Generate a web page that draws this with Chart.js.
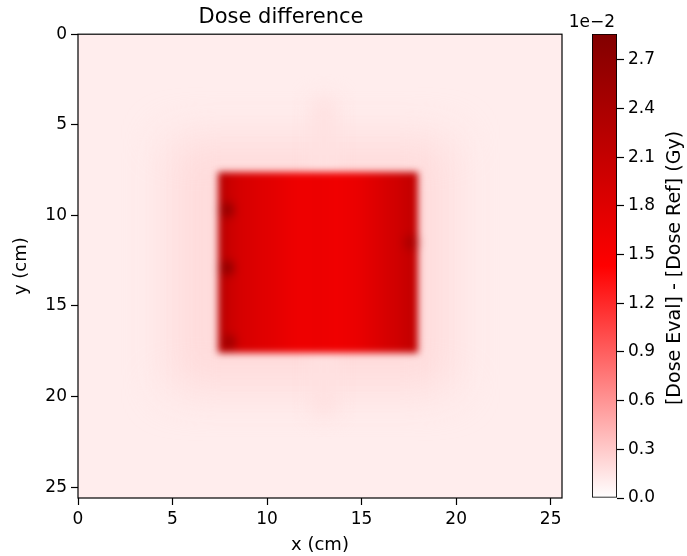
<!DOCTYPE html>
<html>
<head>
<meta charset="utf-8">
<title>Dose difference</title>
<script src="https://cdn.jsdelivr.net/npm/chart.js@4.4.0/dist/chart.umd.min.js"></script>
<style>
  html, body { margin: 0; padding: 0; background: #fff; }
  #wrap { position: relative; width: 687px; height: 556px; }
  #wrap canvas { position: absolute; left: 0; top: 0; }
</style>
</head>
<body>
<div id="wrap">
  <canvas id="dose_map" width="687" height="556"></canvas>
  <canvas id="dose_bar" width="687" height="556"></canvas>
</div>
<script>
// all doses in units of 1e-2 Gy (Eval - Ref)
const doseMax = 2.86;
const backgroundDose = 0.1;

// faint scatter halo around the field
const haloX = [4.8, 19.8];
const haloY = [5.8, 19.6];
const haloDose = 0.2;
const tailX = [12.3, 13.7];
const tailY = [3.5, 21.0];
const tailDose = 0.17;

// open field, split in vertical strips (left edges + last right edge)
const fieldY = [7.6, 17.6];
const stripX = [7.4, 7.9, 8.4, 8.9, 9.4, 9.9, 10.4, 10.9, 11.4, 11.9, 12.4,
                12.9, 13.4, 13.9, 14.4, 14.9, 15.4, 15.9, 16.4, 16.9, 17.4, 18.0];
const stripDose = [2.2, 2.0, 1.9, 1.85, 1.8, 1.76, 1.72, 1.66, 1.62, 1.62, 1.64,
                   1.62, 1.6, 1.62, 1.66, 1.72, 1.8, 1.88, 1.95, 2.02, 2.1];

// hot spots along the field edges
const hotX = [7.9, 7.9, 8.0, 17.6];
const hotY = [9.7, 12.9, 17.0, 11.5];
const hotDose = [2.75, 2.8, 2.6, 2.45];

const font = 'DejaVu Sans';
const tickFont = {family: font, size: 17};
const labelFont = {family: font, size: 18};

// white -> red -> dark red
const cmapStops = [[255, 255, 255], [255, 0, 0], [130, 0, 0]];
function doseColour(d) {
    let t = Math.max(0, Math.min(1, d / doseMax));
    let [a, b] = t < 0.5 ? [cmapStops[0], cmapStops[1]] : [cmapStops[1], cmapStops[2]];
    let f = t < 0.5 ? t / 0.5 : (t - 0.5) / 0.5;
    let c = a.map((v, i) => Math.round(v + (b[i] - v) * f));
    return `rgb(${c[0]}, ${c[1]}, ${c[2]})`;
}

/**
 * paints the dose cells under the axes
 */
const doseMap = {
    id: 'doseMap',
    beforeDatasetsDraw(chart) {
        const {ctx, chartArea: a, scales: {x, y}} = chart;
        const rect = (c, x0, x1, y0, y1, dose) => {
            let px0 = Math.round(x.getPixelForValue(x0)), px1 = Math.round(x.getPixelForValue(x1));
            let py0 = Math.round(y.getPixelForValue(y0)), py1 = Math.round(y.getPixelForValue(y1));
            c.fillStyle = doseColour(dose);
            c.fillRect(Math.min(px0, px1), Math.min(py0, py1), Math.abs(px1 - px0), Math.abs(py1 - py0));
        };
        ctx.save();
        ctx.beginPath();
        ctx.rect(a.left, a.top, a.width, a.height);
        ctx.clip();
        ctx.fillStyle = doseColour(backgroundDose);
        ctx.fillRect(a.left, a.top, a.width, a.height);

        ctx.filter = 'blur(22px)';
        rect(ctx, haloX[0], haloX[1], haloY[0], haloY[1], haloDose);
        ctx.filter = 'blur(10px)';
        rect(ctx, tailX[0], tailX[1], tailY[0], tailY[1], tailDose);

        // field drawn sharp off-screen, then softened as one piece
        const off = document.createElement('canvas');
        off.width = chart.width;
        off.height = chart.height;
        const oc = off.getContext('2d');
        for (let i = 0; i < stripDose.length; i++) {
            rect(oc, stripX[i], stripX[i + 1], fieldY[0], fieldY[1], stripDose[i]);
        }
        oc.filter = 'blur(3px)';
        hotX.forEach((hx, i) => {
            let cx = x.getPixelForValue(hx), cy = y.getPixelForValue(hotY[i]);
            let r = Math.abs(x.getPixelForValue(0.32) - x.getPixelForValue(0));
            oc.fillStyle = doseColour(hotDose[i]);
            oc.beginPath();
            oc.ellipse(cx, cy, r, r * 1.2, 0, 0, Math.PI * 2);
            oc.fill();
        });
        ctx.filter = 'blur(3.5px)';
        ctx.drawImage(off, 0, 0);
        ctx.restore();
    },
    afterDraw(chart) {
        const {ctx, chartArea: a} = chart;
        ctx.save();
        ctx.strokeStyle = '#000';
        ctx.lineWidth = 1.2;
        ctx.strokeRect(a.left, a.top, a.width, a.height);
        ctx.restore();
    }
};

const axisCommon = {
    type: 'linear',
    min: 0,
    max: 25.6,
    ticks: {stepSize: 5, includeBounds: false, color: '#000', font: tickFont, padding: 4},
    grid: {drawOnChartArea: false, drawTicks: true, tickLength: 7, tickColor: '#000', tickWidth: 1.2},
    border: {display: false}
};

const chart_map = new Chart(document.getElementById('dose_map'), {
    type: 'scatter',
    data: {datasets: [{data: [], pointRadius: 0}]},
    options: {
        responsive: false,
        animation: false,
        devicePixelRatio: 1,
        layout: {padding: {left: 0, top: 0, right: 125, bottom: 0}},
        plugins: {
            legend: {display: false},
            tooltip: {enabled: false},
            title: {
                display: true,
                text: 'Dose difference',
                color: '#000',
                font: {family: font, size: 21, weight: 'normal', lineHeight: 1.2},
                padding: {top: 5, bottom: 4}
            }
        },
        scales: {
            x: {
                ...axisCommon,
                title: {display: true, text: 'x (cm)', color: '#000', font: labelFont, padding: {top: 0, bottom: 0}},
                afterFit: s => { s.height = 58; }
            },
            y: {
                ...axisCommon,
                reverse: true,
                title: {display: true, text: 'y (cm)', color: '#000', font: labelFont, padding: {top: 11, bottom: 0}},
                afterFit: s => { s.width = 78; }
            }
        }
    },
    plugins: [doseMap]
});

/**
 * colour bar caption and offset text
 */
const barText = {
    id: 'barText',
    afterDraw(chart) {
        const {ctx, chartArea: a} = chart;
        ctx.save();
        ctx.fillStyle = '#000';
        ctx.font = `17px "${font}"`;
        ctx.textAlign = 'right';
        ctx.textBaseline = 'alphabetic';
        ctx.fillText('1e\u22122', 615, 27);
        ctx.font = `19px "${font}"`;
        ctx.translate(675, 268);
        ctx.rotate(-Math.PI / 2);
        ctx.textAlign = 'center';
        ctx.textBaseline = 'middle';
        ctx.fillText('[Dose Eval] - [Dose Ref] (Gy)', 0, 0);
        ctx.restore();
    }
};

const chart_bar = new Chart(document.getElementById('dose_bar'), {
    type: 'bar',
    data: {
        labels: [''],
        datasets: [{
            data: [[0, doseMax]],
            backgroundColor: c => {
                const area = c.chart.chartArea;
                if (!area) return '#f00';
                const g = c.chart.ctx.createLinearGradient(0, area.bottom, 0, area.top);
                cmapStops.forEach((s, i) => g.addColorStop(i / (cmapStops.length - 1), `rgb(${s.join(',')})`));
                return g;
            },
            borderColor: '#000',
            borderWidth: 1.2,
            borderSkipped: false,
            barPercentage: 1,
            categoryPercentage: 1
        }]
    },
    options: {
        responsive: false,
        animation: false,
        devicePixelRatio: 1,
        layout: {padding: {left: 592, top: 34, right: 10, bottom: 58}},
        plugins: {legend: {display: false}, tooltip: {enabled: false}},
        scales: {
            x: {display: false},
            y: {
                position: 'right',
                min: 0,
                max: doseMax,
                ticks: {stepSize: 0.3, includeBounds: false, color: '#000', font: tickFont, padding: 4,
                        callback: v => v.toFixed(1)},
                grid: {drawOnChartArea: false, drawTicks: true, tickLength: 7, tickColor: '#000', tickWidth: 1.2},
                border: {display: false},
                afterFit: s => { s.width = 60; }
            }
        }
    },
    plugins: [barText]
});
</script>
</body>
</html>
